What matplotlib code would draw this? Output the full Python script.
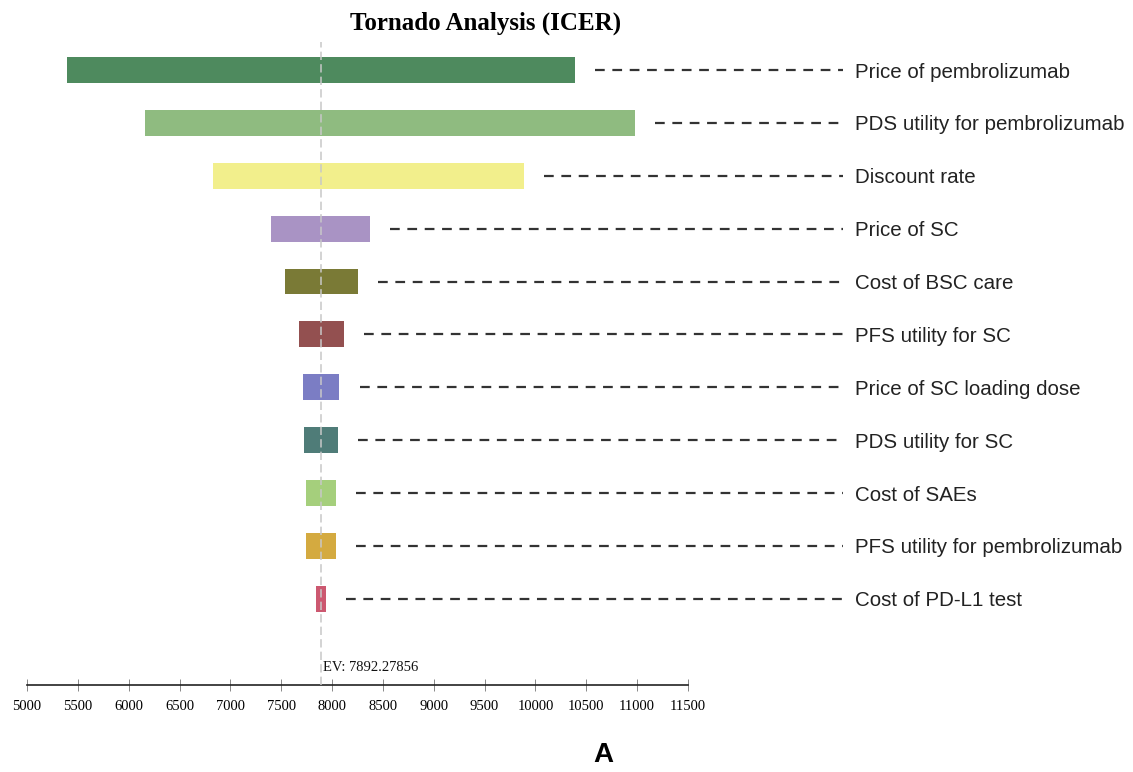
import matplotlib.pyplot as plt

plt.rcParams['lines.scale_dashes'] = False

# tornado data (ICER)
params = ['Price of pembrolizumab', 'PDS utility for pembrolizumab', 'Discount rate',
          'Price of SC', 'Cost of BSC care', 'PFS utility for SC',
          'Price of SC loading dose', 'PDS utility for SC', 'Cost of SAEs',
          'PFS utility for pembrolizumab', 'Cost of PD-L1 test']
low = [5393, 6160, 6829, 7400, 7537, 7678, 7714, 7724, 7747, 7747, 7842]
high = [10389, 10979, 9887, 8373, 8255, 8117, 8071, 8058, 8035, 8038, 7940]
colors = ['#4e8a5e', '#8fbb80', '#f2ef8c', '#a993c4', '#7a7a36', '#935050',
          '#7b7dc4', '#4f7c78', '#a5cf7c', '#d4aa40', '#cc5870']
ev = 7892.27856
ticks = list(range(5000, 11501, 500))

fig = plt.figure(figsize=(11.33, 7.72), dpi=100)
ax = fig.add_axes([27 / 1133, 1 - 685 / 772, 661 / 1133, (685 - 42) / 772])

rows = list(range(len(params)))
widths = [h - l for l, h in zip(low, high)]
ax.barh(rows, widths, left=low, height=0.49, color=colors, edgecolor='none')

label_x = 13142
line_end = 13024
for i, (h, name) in enumerate(zip(high, params)):
    ax.plot([h + 200, line_end], [i, i], color='#333333', lw=1.6,
            linestyle=(0, (7, 5.5)), clip_on=False)
    ax.text(label_x, i, name, fontsize=14.8, family='Liberation Sans',
            va='center_baseline', ha='left', color='#222222', clip_on=False)

ax.axvline(ev, color='#c8c8c8', lw=1.1, linestyle=(0, (6, 3)), zorder=3)
ax.text(ev + 15, 11.3, 'EV: %.5f' % ev, family='Liberation Serif', fontsize=10.5,
        va='center', ha='left', color='#111111')

ax.set_xlim(5000, 11500)
ax.set_ylim(11.63, -0.53)
ax.set_xticks(ticks)
ax.set_xticklabels([str(t) for t in ticks], family='Liberation Serif', fontsize=10.5)
ax.set_yticks([])
for s in ['top', 'left', 'right']:
    ax.spines[s].set_visible(False)
ax.spines['bottom'].set_color('#222222')
ax.spines['bottom'].set_linewidth(1.2)
ax.tick_params(axis='x', direction='inout', length=9, width=0.7, color='#888888', pad=6)

fig.text(486 / 1133, 1 - 23 / 772, 'Tornado Analysis (ICER)', family='Liberation Serif',
         fontsize=18, fontweight='bold', ha='center', va='center')
fig.text(603 / 1133, 1 - 755 / 772, 'A', family='Liberation Sans', fontsize=20,
         fontweight='bold', ha='center', va='center')

fig.savefig('out.png', dpi=100)
